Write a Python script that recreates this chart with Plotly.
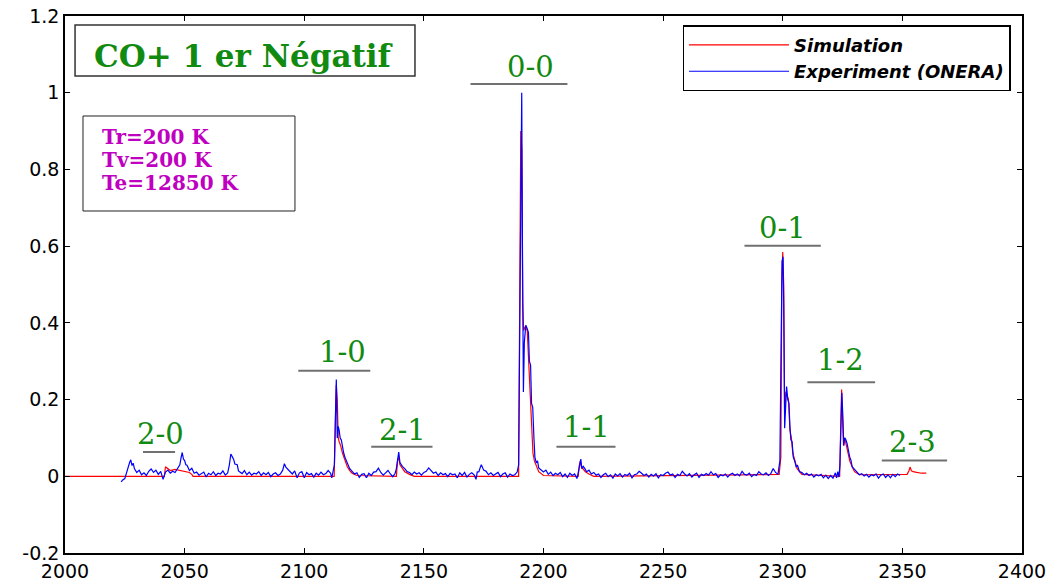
import plotly.graph_objs as go

# Spectre CO+ premier negatif : simulation vs experience ONERA
# Simulation (nombre d'onde, intensite normalisee)
sim_wn = [2000, 2041.5, 2042, 2043, 2044, 2046, 2048, 2050, 2052, 2053, 2053.5,
          2112.5, 2113.0, 2113.4, 2113.8, 2114.2, 2114.6, 2115.2, 2116, 2117, 2118, 2119, 2120, 2122,
          2138.5, 2139, 2139.5, 2140, 2141, 2142, 2144, 2146,
          2189.6, 2190.0, 2190.5, 2190.9, 2191.3, 2191.7, 2192.3, 2193.2, 2193.8, 2194.4, 2195.0,
          2195.6, 2196.2, 2197, 2198, 2200,
          2214.5, 2215, 2215.4, 2215.8, 2216.5, 2217.5, 2219, 2221,
          2298.5, 2299.2, 2299.6, 2300.0, 2300.4, 2300.8, 2301.3, 2301.8, 2302.4, 2303.0, 2303.6,
          2304.2, 2305, 2306, 2308,
          2323.8, 2324.2, 2324.6, 2325.0, 2325.4, 2325.9, 2326.5, 2327.2, 2328, 2329, 2330, 2332,
          2352, 2352.8, 2353.2, 2353.8, 2354.5, 2356, 2358, 2360]
sim_int = [0, 0, 0.025, 0.02, 0.015, 0.018, 0.015, 0.012, 0.01, 0.005, 0,
           0, 0.12, 0.238, 0.2, 0.1, 0.09, 0.08, 0.06, 0.04, 0.025, 0.015, 0.008, 0.002,
           0, 0.04, 0.05, 0.03, 0.02, 0.012, 0.005, 0,
           0, 0.42, 0.9, 0.85, 0.45, 0.38, 0.39, 0.38, 0.3, 0.25, 0.15,
           0.06, 0.04, 0.025, 0.012, 0.002,
           0, 0.03, 0.04, 0.025, 0.02, 0.012, 0.006, 0,
           0.005, 0.05, 0.5, 0.585, 0.5, 0.16, 0.22, 0.21, 0.2, 0.12, 0.1,
           0.06, 0.04, 0.02, 0.005,
           0, 0.12, 0.226, 0.15, 0.08, 0.1, 0.085, 0.06, 0.04, 0.025, 0.012, 0.004,
           0.005, 0.015, 0.024, 0.014, 0.012, 0.01, 0.008, 0.008]

# Experience ONERA, par morceaux (nombre d'onde, intensite)
exp_2000 = [(2023.5, -0.015), (2024, -0.01), (2025, -0.006), (2025.5, 0.004), (2026, 0.02),
            (2026.5, 0.03), (2027, 0.036), (2027.5, 0.043), (2028, 0.028), (2028.5, 0.034),
            (2029, 0.02), (2030, 0.01), (2031, 0.016), (2032, 0.004), (2033, 0.009), (2034, 0.002),
            (2035, 0.013), (2036, 0.019), (2037, 0.01), (2038, 0.016), (2039, 0.005), (2040, 0.013),
            (2041, -0.008), (2042, 0.011), (2043, 0.016), (2044, 0.008), (2045, 0.013), (2046, 0.01),
            (2047, 0.019), (2048, 0.03), (2048.5, 0.048), (2049, 0.062), (2049.5, 0.045),
            (2050, 0.041), (2050.5, 0.03), (2051, 0.029), (2052, 0.015), (2053, 0.021),
            (2054, 0.008), (2055, 0.011), (2056, 0.003), (2057, 0.007), (2058, 0.011),
            (2059, -0.002), (2060, 0.008)]
exp_2060 = [(2061, 0.004), (2062, 0.012), (2063, 0.002), (2064, 0.008), (2065, 0.006), (2066, 0.014),
            (2067, 0.003), (2068, 0.009), (2068.7, 0.03), (2069.3, 0.058), (2070, 0.05),
            (2070.5, 0.044), (2071, 0.032), (2072, 0.03), (2072.5, 0.014), (2073, 0.012),
            (2074, 0.007), (2075, 0.015), (2076, 0.004), (2077, 0.011), (2078, 0.003), (2079, 0.008),
            (2080, 0.006), (2081, 0.012), (2082, 0.002), (2083, 0.009), (2084, 0.004), (2085, 0.01),
            (2086, -0.001), (2087, 0.006), (2088, 0.009), (2089, 0.002), (2090, 0.006), (2091, 0.016),
            (2091.7, 0.033), (2092.3, 0.024), (2093, 0.019), (2094, 0.012), (2095, 0.006),
            (2096, 0.014), (2097, -0.004), (2098, 0.009), (2099, 0.012), (2100, -0.004), (2101, 0.01),
            (2102, 0.004), (2103, 0.007), (2104, -0.002), (2105, 0.008), (2106, 0.003), (2107, 0.011),
            (2108, 0.004), (2109, 0.007), (2110, 0.015), (2111, 0.008), (2111.5, -0.004), (2112, 0.011)]
exp_10 = [(2112.6, 0.03), (2113.0, 0.15), (2113.4, 0.252), (2113.8, 0.1), (2114.2, 0.13),
          (2114.6, 0.12), (2115.0, 0.1), (2115.5, 0.095), (2116, 0.075), (2116.5, 0.06), (2117, 0.05),
          (2118, 0.032), (2119, 0.02), (2120, 0.013), (2121, 0.006), (2122, 0.009), (2123, -0.003),
          (2124, 0.005), (2125, 0.007), (2126, -0.004), (2127, 0.008), (2128, 0.002), (2129, 0.011),
          (2130, 0.012), (2131, 0.021), (2132, 0.01), (2133, 0.003), (2134, 0.009), (2135, 0.015),
          (2136, 0.006), (2137, -0.001), (2138, 0.008)]
exp_21 = [(2138.5, 0.02), (2139, 0.042), (2139.5, 0.063), (2140, 0.036), (2141, 0.026), (2142, 0.02),
          (2143, 0.012), (2144, 0.01), (2145, 0.004), (2146, 0.011), (2147, 0.006), (2148, 0.009),
          (2149, 0.003), (2150, 0.01), (2151, 0.013), (2152, 0.022), (2153, 0.014), (2154, 0.008),
          (2155, 0.011), (2156, 0.002), (2157, 0.009), (2158, 0.004), (2159, 0.007), (2160, -0.001),
          (2161, 0.008), (2162, 0.004), (2163, 0.006), (2164, -0.004), (2165, 0.009), (2166, 0.002),
          (2167, 0.01), (2168, -0.002), (2169, 0.005), (2170, 0.009), (2171, 0.004), (2171.8, -0.008),
          (2172.3, 0.011), (2173, 0.012), (2173.5, 0.022), (2174, 0.03), (2175, 0.016), (2176, 0.013),
          (2177, 0.004), (2178, 0.009), (2179, 0.002), (2180, 0.006), (2181, 0.01), (2182, -0.001),
          (2183, 0.006), (2184, 0.009), (2185, -0.002), (2186, 0.006), (2187, 0.002), (2188, 0.004),
          (2189, 0.011)]
exp_00 = [(2189.6, 0.03), (2190.1, 0.4), (2190.5, 0.85), (2190.9, 1.0), (2191.2, 0.6), (2191.6, 0.22),
          (2192.0, 0.35), (2192.6, 0.394), (2193.2, 0.385), (2193.7, 0.375), (2194.1, 0.3),
          (2194.6, 0.29), (2195.0, 0.19), (2195.5, 0.18), (2196.0, 0.1), (2196.4, 0.05),
          (2197, 0.035), (2197.5, 0.04), (2198, 0.022), (2199, 0.016), (2200, 0.011)]
exp_2200 = [(2201, 0.016), (2202, 0.005), (2203, 0.011), (2204, 0.002), (2205, 0.008), (2206, 0.004),
            (2207, 0.01), (2208, -0.001), (2209, 0.006), (2210, -0.003), (2211, 0.008), (2212, 0.002),
            (2213, 0.006), (2214, -0.006), (2214.6, 0.012), (2215.1, 0.035), (2215.6, 0.045),
            (2216, 0.02), (2216.6, 0.026), (2217.3, 0.02), (2218, 0.012), (2219, 0.016), (2220, 0.006),
            (2221, 0.01), (2222, 0.003), (2223, 0.006), (2224, -0.003), (2225, 0.004), (2226, 0.008),
            (2227, -0.001), (2228, 0.004), (2229, -0.005), (2230, 0.006), (2231, 0.001), (2232, 0.007),
            (2233, -0.002), (2234, 0.005), (2235, 0.002), (2236, 0.008), (2237, -0.004), (2238, 0.004),
            (2239, 0.006), (2240, 0.013), (2241, 0.008), (2242, 0.002), (2243, 0.006), (2244, -0.002),
            (2245, 0.005), (2246, 0.001), (2247, 0.007), (2248, -0.004), (2249, 0.004), (2250, 0.002),
            (2251, 0.008), (2252, 0.011), (2253, 0.003), (2254, 0.006), (2255, -0.003), (2256, 0.005),
            (2257, 0.002), (2258, 0.013), (2259, 0.006), (2260, 0.001), (2261, 0.007), (2262, -0.002),
            (2263, 0.004), (2264, 0.008), (2265, -0.003), (2266, 0.005), (2267, 0.002), (2268, 0.007),
            (2269, 0.003), (2270, 0.012), (2271, 0.004), (2272, 0.007), (2273, -0.003), (2274, 0.004),
            (2275, 0.001), (2276, 0.006), (2277, -0.002), (2278, 0.005), (2279, 0.008), (2280, 0.002),
            (2281, 0.006), (2282, 0.001), (2283, 0.013), (2284, 0.005), (2285, 0.003), (2286, 0.008),
            (2287, -0.001), (2288, 0.005), (2289, 0.002), (2290, 0.012), (2291, 0.006), (2292, 0.004),
            (2293, 0.009), (2294, 0.002), (2295, 0.007), (2296, 0.02), (2297, 0.01), (2298, 0.005)]
exp_01 = [(2298.8, 0.04), (2299.3, 0.35), (2299.7, 0.56), (2300.1, 0.572), (2300.4, 0.45),
          (2300.8, 0.125), (2301.2, 0.2), (2301.6, 0.234), (2302.1, 0.2), (2302.6, 0.19),
          (2303.0, 0.13), (2303.4, 0.095), (2303.9, 0.09), (2304.4, 0.05), (2305, 0.04),
          (2305.6, 0.025), (2306.2, 0.028), (2307, 0.012), (2308, 0.01), (2309, 0.004), (2310, 0.008),
          (2311, 0.002), (2312, 0.006), (2313, -0.002), (2314, 0.004), (2315, 0.001), (2316, 0.005),
          (2317, -0.004), (2318, 0.003), (2319, -0.006), (2320, 0.002), (2321, -0.005), (2322, 0.009),
          (2322.5, -0.004), (2323, 0.012), (2323.5, -0.002)]
exp_12 = [(2323.9, 0.03), (2324.3, 0.15), (2324.7, 0.218), (2325.1, 0.16), (2325.5, 0.08),
          (2325.9, 0.1), (2326.4, 0.095), (2326.9, 0.085), (2327.4, 0.065), (2328, 0.05),
          (2328.5, 0.042), (2329, 0.025), (2330, 0.018), (2331, 0.01), (2332, 0.004), (2333, 0.007),
          (2334, 0.001), (2335, 0.005), (2336, -0.002), (2337, 0.004), (2338, 0.001), (2339, 0.006),
          (2340, -0.005), (2341, 0.003), (2342, 0.006), (2343, -0.003), (2344, 0.004), (2345, -0.004),
          (2346, 0.005), (2347, -0.001), (2348, 0.006), (2349, 0.002)]

# bandes (v'-v'') : position du texte et du trait
band_names = ['2-0', '1-0', '2-1', '0-0', '1-1', '0-1', '1-2', '2-3']
band_text_x = [2039.9, 2115.8, 2140.9, 2194.4, 2218.0, 2299.7, 2324.3, 2354.4]
band_text_y = [0.110, 0.324, 0.121, 1.067, 0.129, 0.647, 0.303, 0.090]
band_line_x0 = [2032.6, 2097.5, 2128.0, 2169.5, 2205.4, 2284.0, 2310.3, 2341.4]
band_line_x1 = [2046.0, 2127.6, 2153.6, 2210.0, 2230.1, 2315.9, 2338.6, 2368.7]
band_line_y = [0.063, 0.275, 0.077, 1.023, 0.077, 0.601, 0.245, 0.041]

# temperatures du calcul
temp_lines = ['Tr=200 K', 'Tv=200 K', 'Te=12850 K']
temp_y = [0.7747, 0.7318, 0.6890]

x_ticks = [2000, 2050, 2100, 2150, 2200, 2250, 2300, 2350, 2400]
y_ticks = [-0.2, 0, 0.2, 0.4, 0.6, 0.8, 1.0, 1.2]
y_tick_text = ['-0.2', '0', '0.2', '0.4', '0.6', '0.8', '1', '1.2']

exp = exp_2000 + exp_2060 + exp_10 + exp_21 + exp_00 + exp_2200 + exp_01 + exp_12
exp_wn = [p[0] for p in exp]
exp_int = [p[1] for p in exp]

trace_sim = go.Scatter(x=sim_wn, y=sim_int, mode='lines', name='Simulation',
                       line=dict(color='#ff0000', width=1.2))
trace_exp = go.Scatter(x=exp_wn, y=exp_int, mode='lines', name='Experiment (ONERA)',
                       line=dict(color='#0000ff', width=1.2))

fig = go.Figure(data=[trace_sim, trace_exp])

shapes = []
annotations = []
green = '#118a11'
for i in range(len(band_names)):
    shapes.append(dict(type='line', xref='x', yref='y',
                       x0=band_line_x0[i], x1=band_line_x1[i],
                       y0=band_line_y[i], y1=band_line_y[i],
                       line=dict(color='#707070', width=2)))
    annotations.append(dict(x=band_text_x[i], y=band_text_y[i], xref='x', yref='y',
                            xanchor='center', yanchor='middle',
                            text=band_names[i], showarrow=False,
                            font=dict(family='DejaVu Serif', size=29, color=green)))

# cadres titre et temperatures
shapes.append(dict(type='rect', xref='paper', yref='paper', x0=0.0105, x1=0.3657,
                   y0=0.8883, y1=0.9832, line=dict(color='#333333', width=1.5)))
shapes.append(dict(type='rect', xref='paper', yref='paper', x0=0.0188, x1=0.2403,
                   y0=0.6369, y1=0.8138, line=dict(color='#222222', width=1)))
annotations.append(dict(x=0.186, y=0.9255, xref='paper', yref='paper',
                        xanchor='center', yanchor='middle',
                        text='CO+ 1 er Négatif', showarrow=False,
                        font=dict(family='DejaVu Serif', size=31, color=green, weight='bold')))
for t, ty in zip(temp_lines, temp_y):
    annotations.append(dict(x=0.0366, y=ty, xref='paper', yref='paper',
                            xanchor='left', yanchor='middle', text=t, showarrow=False,
                            font=dict(family='DejaVu Serif', size=20, color='#c000c0', weight='bold')))

axis_style = dict(showline=True, linecolor='black', linewidth=1.5, mirror='ticks',
                  ticks='inside', ticklen=5, tickcolor='black', showgrid=False,
                  zeroline=False, automargin=False, ticklabeloverflow='allow',
                  tickfont=dict(family='DejaVu Sans', size=19, color='black'))

# la page a une marge de 8 px : figure de 1050x575
fig.update_layout(
    template='none',
    width=1050, height=575,
    paper_bgcolor='white', plot_bgcolor='white',
    margin=dict(l=57, r=36, t=8, b=30),
    xaxis=dict(range=[2000, 2400], tickvals=x_ticks, **axis_style),
    yaxis=dict(range=[-0.2, 1.2], tickvals=y_ticks, ticktext=y_tick_text, **axis_style),
    shapes=shapes,
    annotations=annotations,
    showlegend=True,
    legend=dict(x=0.988, y=0.983, xanchor='right', yanchor='top',
                bgcolor='white', bordercolor='black', borderwidth=1.5,
                itemwidth=100, tracegroupgap=0,
                font=dict(family='DejaVu Sans', size=18, color='black',
                          weight='bold', style='italic')),
)

fig.write_html("out.html")
